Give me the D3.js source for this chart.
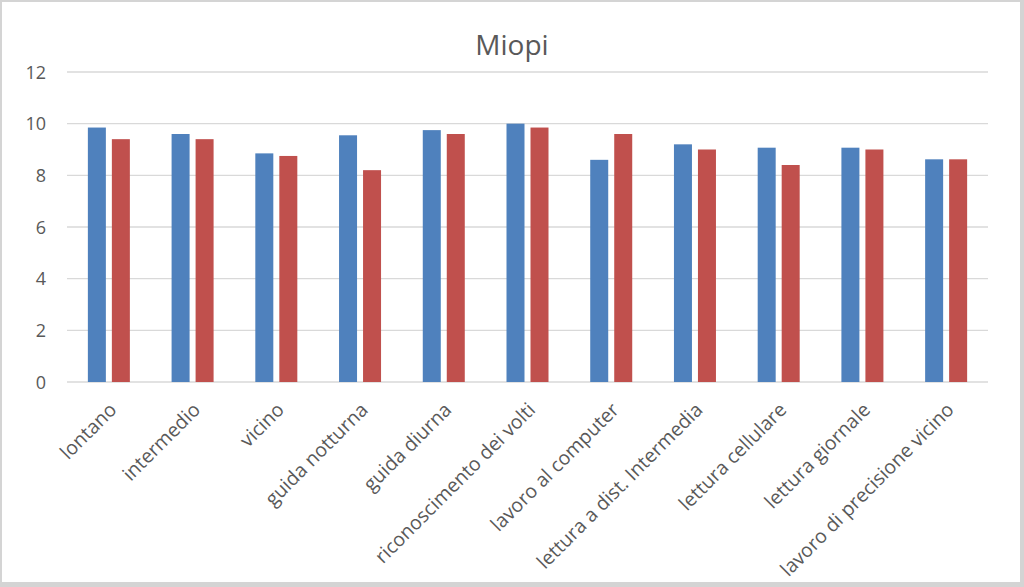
<!DOCTYPE html>
<html>
<head>
<meta charset="utf-8">
<script src="https://cdn.jsdelivr.net/npm/d3@7"></script>
<style>
  body { margin: 0; background: #fff; }
  svg { display: block; font-family: "Open Sans", "Liberation Sans", sans-serif; }
</style>
</head>
<body>
<div class="canvas"></div>
<script>
// data
const categories = ['lontano', 'intermedio', 'vicino', 'guida notturna', 'guida diurna',
  'riconoscimento dei volti', 'lavoro al computer', 'lettura a dist. Intermedia',
  'lettura cellulare', 'lettura giornale', 'lavoro di precisione vicino'];
const seriesA = [9.85, 9.6, 8.85, 9.55, 9.75, 10, 8.6, 9.2, 9.07, 9.07, 8.62];
const seriesB = [9.4, 9.4, 8.75, 8.2, 9.6, 9.85, 9.6, 9.0, 8.4, 9.0, 8.62];
const yTicks = [0, 2, 4, 6, 8, 10, 12];

const dims = { width: 1024, height: 587 };
const plot = { left: 67, right: 988, top: 72, bottom: 382 };

const svg = d3.select('.canvas')
  .append('svg')
  .attr('width', dims.width)
  .attr('height', dims.height);

// frame (grey edge, thicker on right/bottom)
svg.append('rect')
  .attr('width', dims.width).attr('height', dims.height)
  .attr('fill', '#d4d4d4');
svg.append('rect')
  .attr('x', 2).attr('y', 2)
  .attr('width', dims.width - 6).attr('height', dims.height - 7)
  .attr('fill', '#fff');

svg.append('text')
  .attr('x', 512).attr('y', 55)
  .attr('text-anchor', 'middle')
  .attr('font-size', 28)
  .attr('fill', '#595959')
  .text('Miopi');

const x = d3.scaleBand()
  .domain(categories)
  .range([plot.left, plot.right]);

const y = d3.scaleLinear()
  .domain([0, 12])
  .range([plot.bottom, plot.top]);

// gridlines
svg.append('g')
  .selectAll('line')
  .data(yTicks)
  .enter().append('line')
  .attr('x1', plot.left).attr('x2', plot.right)
  .attr('y1', d => y(d)).attr('y2', d => y(d))
  .attr('stroke', '#d9d9d9')
  .attr('stroke-width', 1.3);

// y labels
svg.append('g')
  .selectAll('text')
  .data(yTicks)
  .enter().append('text')
  .attr('x', 46)
  .attr('y', d => y(d) + 6.5)
  .attr('text-anchor', 'end')
  .attr('font-size', 18)
  .attr('fill', '#595959')
  .text(d => d);

const barW = 18, gap = 6;
const series = [
  { values: seriesA, colour: '#4f81bd', offset: -(barW + gap / 2) },
  { values: seriesB, colour: '#c0504d', offset: gap / 2 }
];

series.forEach(s => {
  svg.append('g')
    .selectAll('rect')
    .data(s.values)
    .enter().append('rect')
    .attr('x', (d, i) => x(categories[i]) + x.bandwidth() / 2 + s.offset)
    .attr('y', d => y(d))
    .attr('width', barW)
    .attr('height', d => y(0) - y(d))
    .attr('fill', s.colour);
});

// category labels, rotated
svg.append('g')
  .selectAll('text')
  .data(categories)
  .enter().append('text')
  .attr('transform', d => `translate(${x(d) + x.bandwidth() / 2 + 9}, 411) rotate(-45)`)
  .attr('text-anchor', 'end')
  .attr('font-size', 19.5)
  .attr('fill', '#595959')
  .text(d => d);
</script>
</body>
</html>
